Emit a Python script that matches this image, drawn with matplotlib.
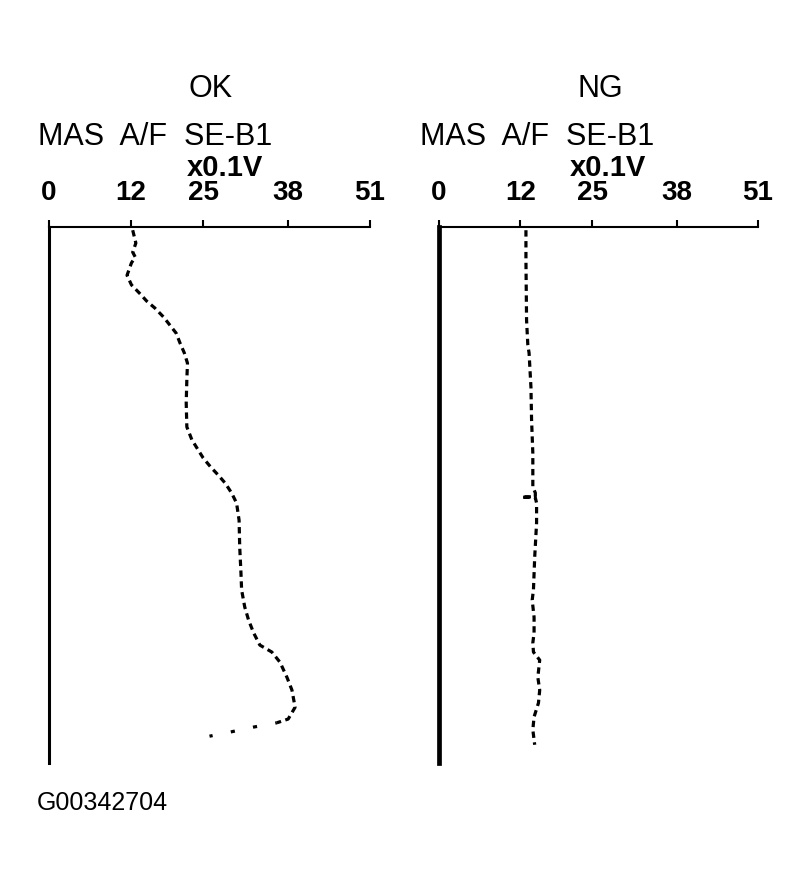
import matplotlib
matplotlib.use("Agg")
import matplotlib.pyplot as plt

plt.rcParams['font.family'] = ['Liberation Sans', 'DejaVu Sans']

# horizontal scale: MAS A/F SE-B1 (x0.1V)
tick_pos = [0, 13, 24.5, 38, 51]
tick_labels = ['0', '12', '25', '38', '51']

# vertical axis: elapsed time, 0 at top .. 100 at bottom (no units shown)
ok_t = [0.6, 3.0, 4.7, 5.6, 6.7, 9.0, 10.8, 12.5, 13.8, 15.1, 16.8, 18.3,
        19.8, 21.6, 23.5, 25.4, 28.5, 32.8, 37.3, 39.7, 41.6, 43.1, 44.8,
        46.3, 47.8, 49.6, 51.5, 54.7, 59.7, 64.6, 67.7, 70.9, 73.3, 75.7,
        78.0, 79.3, 81.2, 84.0, 86.4, 89.6, 91.8, 92.5]
ok_v = [13.3, 13.8, 13.3, 13.7, 13.1, 12.4, 13.1, 14.5, 15.5, 16.8, 18.2, 19.2,
        20.2, 20.8, 21.5, 22.0, 21.9, 21.8, 21.9, 22.7, 23.7, 24.5, 25.7,
        26.9, 28.0, 29.0, 29.8, 30.2, 30.3, 30.5, 30.6, 31.1, 31.7, 32.5,
        33.5, 35.4, 36.7, 37.8, 38.6, 39.1, 38.0, 36.2]
# sparse dotted end of the OK trace
ok_tail_t = [92.5, 93.3, 94.2, 95.0]
ok_tail_v = [36.2, 32.5, 28.9, 25.5]

ng_t = [0.6, 6.2, 17.4, 22.0, 23.5, 29.9, 36.0, 42.2, 48.5, 49.6, 50.3, 50.4,
        50.5, 51.5, 55.2, 61.6, 67.7, 69.6, 72.8, 75.7, 77.6, 79.3, 80.8,
        84.0, 86.4, 88.8, 91.4, 93.8, 96.6]
ng_v = [13.9, 13.9, 14.0, 14.2, 14.4, 14.7, 14.8, 15.0, 15.0, 15.4, 15.4, 13.2,
        15.4, 15.6, 15.6, 15.3, 15.1, 14.9, 15.2, 15.2, 15.0, 15.1, 16.1,
        15.8, 16.1, 15.9, 15.2, 15.0, 15.3]

W, H = 803, 885
fig = plt.figure(figsize=(W / 100, H / 100), dpi=100)


def make_axes(left_px, width_px, spine_lw):
    ax = fig.add_axes([left_px / W, 1 - 763 / H, width_px / W, 536 / H])
    ax.set_xlim(0, 51)
    ax.set_ylim(100, 0)
    for s in ['right', 'bottom']:
        ax.spines[s].set_visible(False)
    ax.spines['left'].set_linewidth(spine_lw)
    ax.spines['top'].set_linewidth(1.5)
    ax.xaxis.tick_top()
    ax.set_xticks(tick_pos)
    ax.set_xticklabels(tick_labels, fontsize=20, fontweight='bold')
    ax.tick_params(axis='x', direction='out', length=5, width=1.5, pad=10)
    ax.set_yticks([])
    return ax


ax1 = make_axes(49, 321, 2.2)
ax1.plot(ok_v, ok_t, color='black', lw=2.3, linestyle=(0, (2.0, 1.4)))
ax1.plot(ok_tail_v, ok_tail_t, color='black', lw=2.3,
         linestyle=(0.8, (1.3, 5.8)))

ax2 = make_axes(439, 319, 3.4)
ax2.plot(ng_v, ng_t, color='black', lw=2.3, linestyle=(0, (2.0, 1.4)))

# headings
for cx_title, cx_head, cx_unit, title in [(211, 155, 225, 'OK'), (600, 537, 608, 'NG')]:
    fig.text(cx_title / W, 1 - 89 / H, title, fontsize=22, ha='center', va='center')
    fig.text(cx_head / W, 1 - 137 / H, 'MAS  A/F  SE-B1', fontsize=22,
             ha='center', va='center')
    fig.text(cx_unit / W, 1 - 168 / H, 'x0.1V', fontsize=21, fontweight='bold',
             ha='center', va='center')

fig.text(37 / W, 1 - 803 / H, 'G00342704', fontsize=18, ha='left', va='center')

fig.savefig('out.png', dpi=100)
